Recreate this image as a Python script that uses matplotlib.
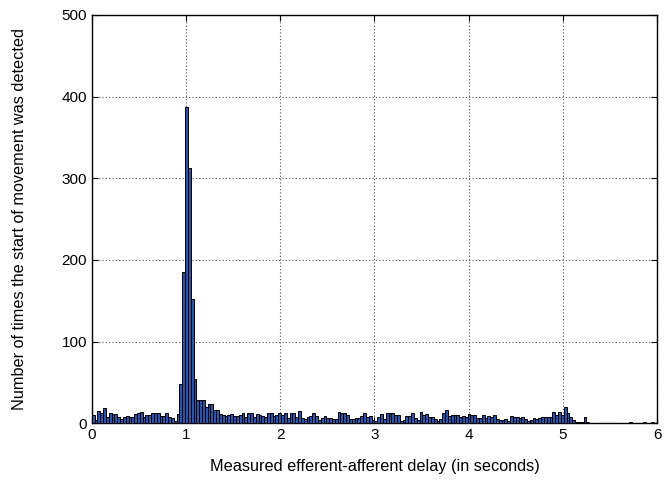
import numpy as np
import matplotlib
matplotlib.use("Agg")
import matplotlib.pyplot as plt

# Data: histogram counts, bin width 0.03 s starting at 0
bin_width = 0.03
counts = [
    # 0.00 - 0.93
    10, 4, 15, 13, 18, 8, 13, 11, 11, 8, 5, 8, 9, 8, 8, 11, 12, 14, 8, 10,
    10, 13, 13, 12, 9, 9, 12, 8, 6, 3, 11,
    # peak around 1 s
    48, 185, 387, 312, 152, 54,
    # 1.11 - 2.0
    29, 29, 29, 20, 24, 24, 16, 16, 11, 10, 9, 10, 11, 9, 9, 10, 12, 7, 12, 13,
    8, 11, 10, 9, 7, 12, 13, 9, 10, 12,
    # 2.0 - 3.0
    10, 12, 6, 12, 13, 8, 15, 6, 5, 8, 9, 13, 9, 4, 6, 9, 6, 6, 5, 5,
    14, 12, 13, 10, 5, 5, 6, 6, 9, 12, 8, 9, 4,
    # 3.0 - 4.0
    3, 8, 11, 5, 12, 13, 12, 10, 10, 3, 4, 9, 9, 12, 6, 4, 14, 10, 11, 8,
    8, 5, 3, 5, 12, 16, 9, 10, 10, 10, 8, 9, 7, 11,
    # 4.0 - 4.8
    10, 10, 6, 6, 10, 6, 9, 8, 10, 5, 4, 4, 5, 3, 9, 7, 8, 6, 7, 5,
    3, 4, 6, 5, 6, 8,
    # 4.8 - 5.28
    8, 8, 8, 14, 10, 14, 10, 20, 12, 8, 4, 1, 2, 1, 8, 1,
    # tail
    0, 0, 0, 0, 0, 0, 0, 0, 0, 0, 0, 0, 0, 0, 1, 0, 0, 0, 0, 2,
    0, 0, 1, 0,
]
edges = np.arange(len(counts)) * bin_width

plt.rcParams['font.family'] = ['Liberation Sans', 'DejaVu Sans']

fig = plt.figure(figsize=(6.65, 4.82), dpi=100)
ax = fig.add_axes([0.138, 0.122, 0.850, 0.847])

ax.bar(edges, counts, width=bin_width, align='edge',
       color='#2d52aa', edgecolor='black', linewidth=0.7, zorder=3)

ax.set_xlim(0, 6)
ax.set_ylim(0, 500)
ax.set_xticks(range(0, 7))
ax.set_yticks(range(0, 501, 100))
ax.grid(True, linestyle=(0, (1, 2)), color='#555555', linewidth=0.8, zorder=0)
ax.tick_params(direction='in', top=True, right=True, labelsize=11, length=4)
for s in ax.spines.values():
    s.set_linewidth(1.0)

ax.set_xlabel('Measured efferent-afferent delay (in seconds)', fontsize=11.7,
              labelpad=12)
ax.set_ylabel('Number of times the start of movement was detected',
              fontsize=11.7, labelpad=25)

fig.savefig('out.png', dpi=100)
